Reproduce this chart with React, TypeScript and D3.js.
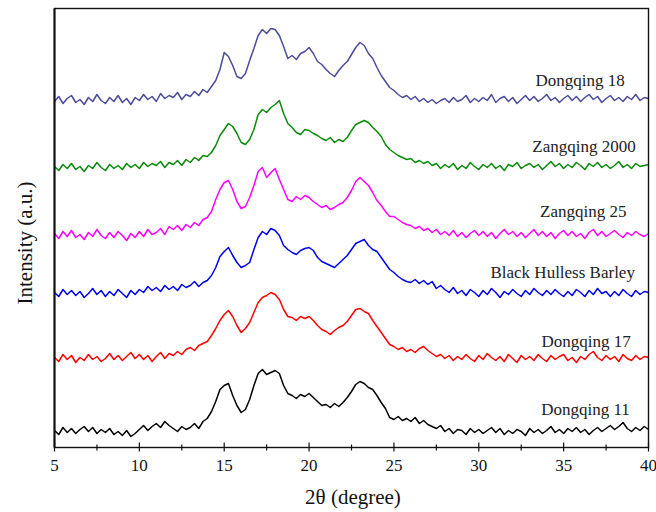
import React, { useEffect, useRef } from "react";
import * as d3 from "d3";

// 2θ grid of the scans, 5° to 40° every 0.25°
const twoTheta: number[] = d3.range(0, 141).map((i) => 5 + i * 0.25);

// Intensities (a.u., already stacked), four readings per degree
const dongqing18 = [
  346, 351, 344, 349, 352, 345, 348, 343, 350, 346, 353, 347, 344, 350, 346, 352,
  345, 349, 343, 350, 347, 353, 348, 351, 346, 354, 349, 352, 350, 355, 348, 353,
  351, 356, 352, 358, 355, 361, 367, 378, 395, 391, 382, 371, 369, 374, 387, 399,
  412, 418, 414, 419, 418, 412, 401, 389, 392, 388, 394, 396, 400, 394, 386, 383,
  378, 374, 371, 377, 382, 386, 393, 400, 405, 402, 394, 389, 380, 372, 366, 360,
  357, 353, 350, 352, 348, 351, 346, 349, 345, 348, 344, 347, 349, 345, 350, 346,
  348, 352, 345, 349, 346, 350, 347, 353, 345, 349, 351, 346, 350, 344, 348, 352,
  347, 351, 346, 349, 353, 347, 350, 345, 349, 352, 347, 351, 346, 350, 353, 348,
  351, 345, 349, 352, 347, 350, 346, 351, 348, 353, 347, 350, 349,
];
const zangqing2000 = [
  281, 277, 283, 279, 284, 278, 281, 276, 282, 279, 285, 280, 277, 283, 279, 282,
  278, 284, 280, 283, 279, 285, 281, 284, 282, 286, 280, 285, 283, 287, 282, 288,
  285, 290, 287, 292, 291, 295, 302, 312, 318, 324, 321, 314, 305, 303, 308, 318,
  333, 338, 335, 340, 343, 347, 334, 324, 320, 315, 313, 318, 317, 314, 312, 309,
  307, 310, 305, 308, 306, 310, 317, 323, 325, 327, 325, 320, 316, 311, 303, 298,
  295, 292, 290, 288, 289, 285, 287, 284, 286, 282, 284, 279, 283, 280, 284, 278,
  282, 279, 285, 281, 278, 283, 280, 284, 279, 282, 277, 283, 281, 285, 279, 282,
  284, 280, 283, 278, 282, 286, 281, 284, 279, 283, 280, 285, 282, 278, 284, 281,
  285, 280, 283, 279, 282, 286, 280, 283, 279, 284, 281, 282, 283,
];
const zangqing25 = [
  214, 209, 216, 211, 217, 210, 213, 208, 215, 211, 218, 212, 209, 215, 210, 216,
  212, 207, 214, 210, 216, 211, 218, 213, 215, 219, 213, 221, 218, 222, 217, 223,
  220, 225, 222, 228, 230, 236, 248, 258, 265, 267, 258, 246, 239, 241, 250, 262,
  276, 280, 270, 275, 279, 268, 258, 248, 246, 251, 248, 252, 250, 246, 243, 240,
  242, 238, 240, 243, 245, 250, 257, 266, 270, 266, 262, 255, 247, 242, 236, 231,
  231, 228, 225, 223, 222, 219, 221, 217, 219, 215, 218, 213, 216, 212, 217, 211,
  215, 210, 214, 217, 212, 216, 211, 215, 209, 214, 218, 213, 216, 211, 215, 210,
  214, 218, 212, 216, 211, 215, 209, 214, 217, 212, 216, 211, 214, 209, 215, 218,
  212, 216, 211, 214, 217, 213, 210, 215, 212, 216, 213, 211, 214,
];
const blackHulless = [
  155, 151, 158, 153, 157, 152, 156, 150, 154, 159, 153, 157, 151, 156, 152, 158,
  154, 150, 157, 153, 158, 155, 161, 157, 160, 156, 162, 158, 161, 157, 163, 160,
  162, 166, 161, 165, 167, 172, 180, 191, 196, 200, 192, 185, 180, 182, 185, 198,
  210, 216, 213, 219, 217, 212, 202, 198, 195, 193, 197, 199, 200, 197, 190, 186,
  184, 182, 180, 184, 188, 192, 198, 204, 206, 208, 202, 198, 196, 190, 184, 178,
  175, 171, 168, 166, 165, 168, 164, 167, 163, 166, 159, 162, 158, 155, 160, 154,
  157, 152, 158, 155, 151, 157, 153, 159, 155, 150, 156, 153, 158, 154, 151, 157,
  153, 159, 155, 152, 157, 153, 158, 154, 151, 156, 152, 158, 155, 151, 157, 153,
  159, 154, 156, 151, 156, 152, 158, 154, 151, 157, 153, 156, 155,
];
const dongqing17 = [
  90, 86, 93, 88, 92, 85, 90, 87, 93, 88, 91, 86, 89, 94, 88, 92,
  87, 91, 95, 89, 93, 88, 92, 86, 91, 95, 89, 94, 92, 96, 93, 98,
  100, 97, 102, 104, 106, 112, 119, 127, 133, 137, 131, 122, 115, 119, 125, 135,
  145, 150, 152, 155, 153, 148, 138, 131, 130, 127, 131, 129, 131, 127, 122, 118,
  116, 113, 117, 120, 122, 126, 132, 138, 139, 136, 134, 127, 121, 115, 109, 103,
  101, 98, 100, 96, 98, 95, 99, 101, 97, 94, 91, 93, 89, 92, 87, 91,
  88, 93, 89, 86, 92, 88, 94, 90, 87, 91, 86, 93, 89, 85, 92, 88,
  91, 87, 93, 89, 86, 92, 88, 91, 93, 87, 90, 85, 91, 88, 93, 96,
  90, 87, 92, 88, 91, 86, 93, 89, 87, 92, 88, 91, 90,
];
const dongqing11 = [
  17, 13, 20, 15, 19, 14, 18, 21, 16, 20, 14, 18, 15, 19, 13, 16,
  12, 17, 11, 14, 18, 22, 17, 21, 24, 20, 26, 22, 19, 16, 21, 18,
  20, 24, 19, 26, 29, 36, 46, 58, 62, 64, 52, 42, 35, 38, 48, 62,
  74, 78, 73, 75, 77, 74, 62, 54, 52, 49, 53, 51, 54, 50, 46, 42,
  43, 40, 44, 41, 45, 50, 56, 63, 66, 64, 60, 58, 52, 45, 39, 30,
  28, 31, 27, 29, 26, 30, 24, 27, 23, 21, 19, 22, 16, 19, 14, 18,
  17, 13, 19, 15, 18, 14, 17, 20, 15, 19, 13, 17, 14, 18, 16, 12,
  19, 15, 18, 14, 17, 21, 15, 18, 14, 19, 16, 20, 15, 18, 13, 17,
  20, 16, 19, 22, 18, 21, 25, 19, 16, 20, 17, 21, 18,
];

const seriesNames = [
  "Dongqing 18",
  "Zangqing 2000",
  "Zangqing 25",
  "Black Hulless Barley",
  "Dongqing 17",
  "Dongqing 11",
];
const seriesValues = [dongqing18, zangqing2000, zangqing25, blackHulless, dongqing17, dongqing11];
const seriesColors = ["#4b4b9c", "#0a8a0a", "#ff00ff", "#0000f0", "#ff0000", "#000000"];

// label anchors (right end, baseline) in data units
const labelTheta = [38.6, 39.25, 38.7, 39.2, 38.95, 38.9];
const labelValue = [362, 296, 231, 170, 101, 33];

const xMajorTicks = [5, 10, 15, 20, 25, 30, 35, 40];
const xMinorTicks = [7.5, 12.5, 17.5, 22.5, 27.5, 32.5, 37.5];

export default function App() {
  const ref = useRef<SVGSVGElement | null>(null);

  useEffect(() => {
    const W = 656;
    const H = 512;
    const left = 54.5;
    const right = 648.5;
    const top = 8.5;
    const bottom = 447.5;

    const svg = d3.select(ref.current);
    svg.selectAll("*").remove();
    svg.attr("width", W).attr("height", H);

    const x = d3.scaleLinear().domain([5, 40]).range([left, right]);
    const y = d3.scaleLinear().domain([0, 439]).range([bottom, top]);

    // traces
    const line = d3
      .line<number>()
      .x((_, i) => x(twoTheta[i]))
      .y((d) => y(d));

    seriesValues.forEach((vals, k) => {
      svg
        .append("path")
        .datum(vals)
        .attr("fill", "none")
        .attr("stroke", seriesColors[k])
        .attr("stroke-width", 1.5)
        .attr("stroke-linejoin", "round")
        .attr("d", line);
    });

    // frame
    svg
      .append("rect")
      .attr("x", left)
      .attr("y", top)
      .attr("width", right - left)
      .attr("height", bottom - top)
      .attr("fill", "none")
      .attr("stroke", "#111")
      .attr("stroke-width", 1.4);
    svg
      .append("line")
      .attr("x1", left)
      .attr("x2", left)
      .attr("y1", top)
      .attr("y2", bottom)
      .attr("stroke", "#111")
      .attr("stroke-width", 2);

    // x ticks
    const ticks = svg.append("g").attr("stroke", "#111").attr("stroke-width", 1.2);
    xMajorTicks.forEach((t) => {
      ticks
        .append("line")
        .attr("x1", x(t))
        .attr("x2", x(t))
        .attr("y1", bottom - 5)
        .attr("y2", bottom + 4);
    });
    xMinorTicks.forEach((t) => {
      ticks
        .append("line")
        .attr("x1", x(t))
        .attr("x2", x(t))
        .attr("y1", bottom - 3)
        .attr("y2", bottom + 3);
    });

    const font = "'Liberation Serif', 'Times New Roman', serif";

    svg
      .append("g")
      .selectAll("text")
      .data(xMajorTicks)
      .join("text")
      .attr("x", (d) => x(d))
      .attr("y", 471)
      .attr("text-anchor", "middle")
      .attr("font-family", font)
      .attr("font-size", 17)
      .attr("fill", "#111")
      .text((d) => d);

    // axis titles
    svg
      .append("text")
      .attr("x", 353)
      .attr("y", 504)
      .attr("text-anchor", "middle")
      .attr("font-family", font)
      .attr("font-size", 21)
      .attr("fill", "#111")
      .text("2θ (degree)");

    svg
      .append("text")
      .attr("transform", "translate(32,243) rotate(-90)")
      .attr("text-anchor", "middle")
      .attr("font-family", font)
      .attr("font-size", 21)
      .attr("fill", "#111")
      .text("Intensity (a.u.)");

    // sample labels
    svg
      .append("g")
      .selectAll("text")
      .data(seriesNames)
      .join("text")
      .attr("x", (_, i) => x(labelTheta[i]))
      .attr("y", (_, i) => y(labelValue[i]))
      .attr("text-anchor", "end")
      .attr("font-family", font)
      .attr("font-size", 17)
      .attr("fill", "#222")
      .text((d) => d);
  }, []);

  return (
    <svg
      ref={ref}
      style={{ position: "absolute", left: 0, top: 0, background: "#fff" }}
    />
  );
}
